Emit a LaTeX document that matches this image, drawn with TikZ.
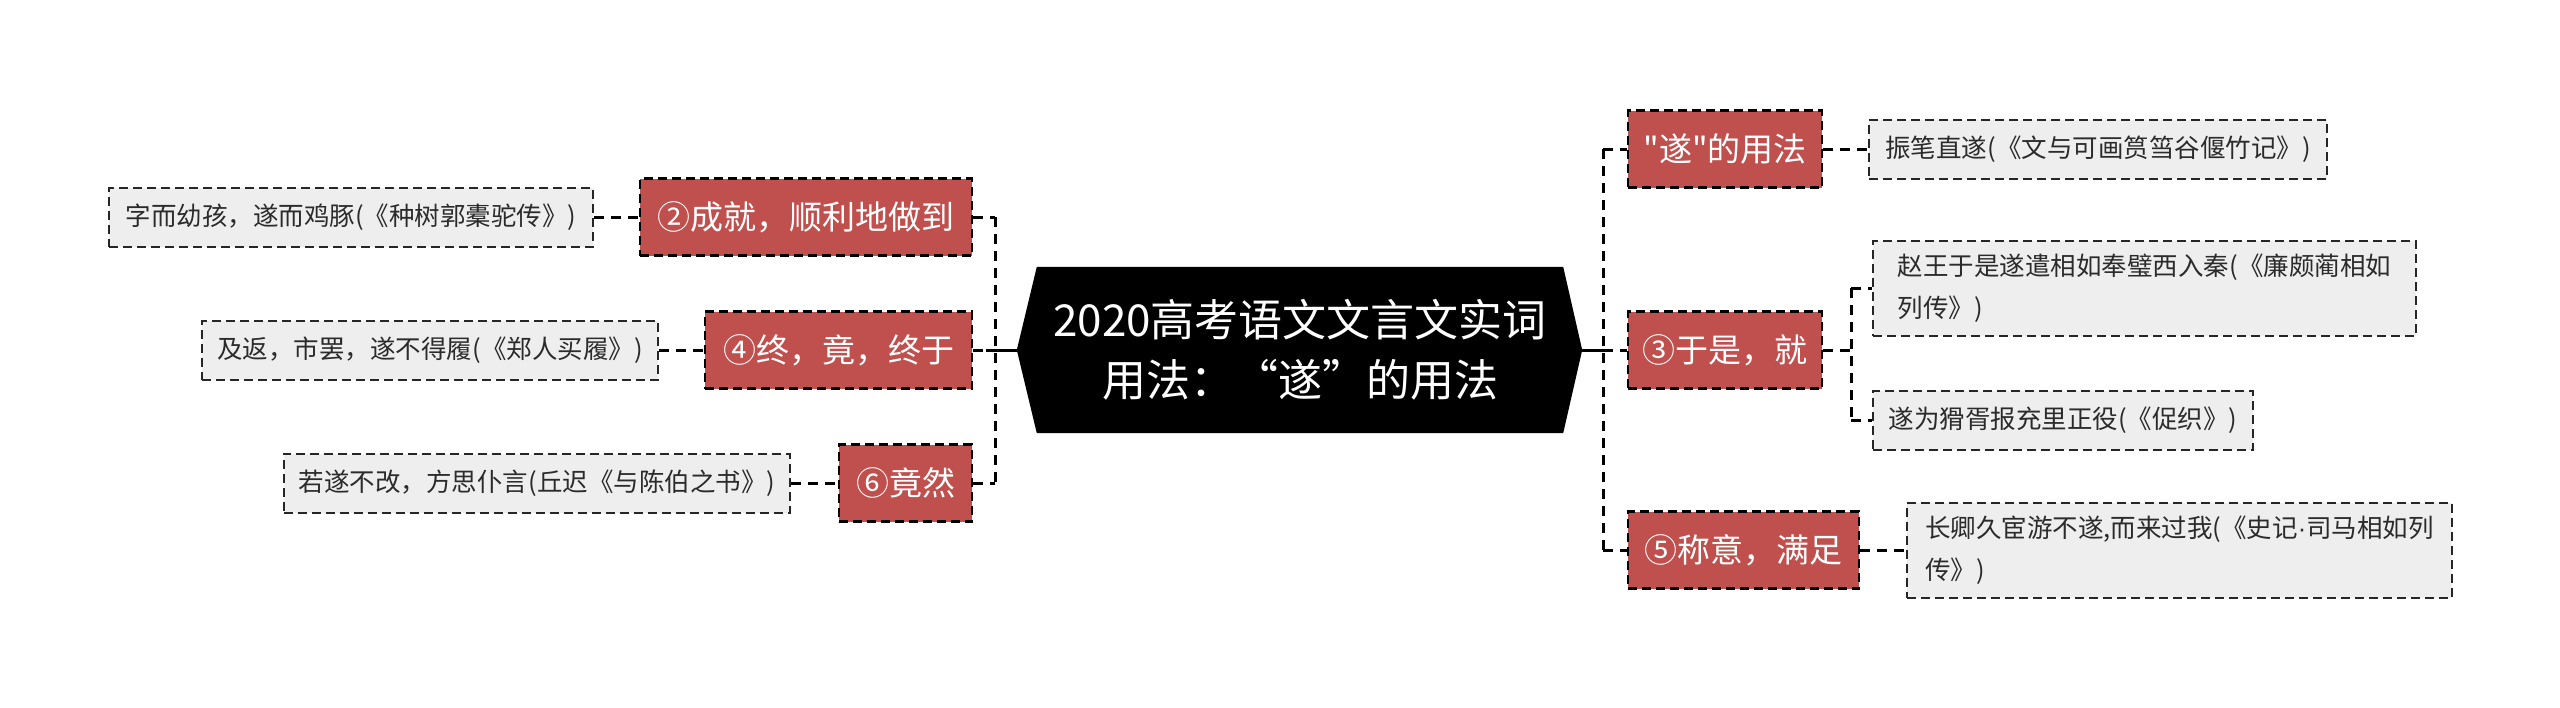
\documentclass[tikz,border=0pt]{standalone}
\usepackage{fontspec}
\newfontfamily\cjk{Noto Sans CJK SC}
\newfontfamily\latin{Liberation Sans}
\setmainfont{Noto Sans CJK SC}
\usetikzlibrary{backgrounds}
\definecolor{redfill}{HTML}{C0504D}
\definecolor{greyfill}{HTML}{EEEEEE}
\definecolor{greytext}{HTML}{2B2B2B}
\begin{document}
\begin{tikzpicture}[x=1pt,y=-1pt,
  centerbox/.style={minimum width=526pt, minimum height=166pt, inner sep=0pt, text=white, align=center, font=\cjk\fontsize{44}{60}\selectfont},
  redbox/.style={draw=black, line width=2.5pt, dash pattern=on 9pt off 5pt, fill=redfill, text=white, minimum height=77pt, inner sep=0pt, font=\cjk\fontsize{33}{40}\selectfont},
  greybox/.style={draw=black!85, line width=2pt, dash pattern=on 9pt off 5pt, fill=greyfill, text=greytext, minimum height=59pt, inner xsep=15pt, inner ysep=0pt, align=left, font=\cjk\fontsize{25.5}{42}\selectfont},
  conn/.style={draw=black, line width=3pt, dash pattern=on 10pt off 7pt},
  solidconn/.style={draw=black, line width=3pt}
]
\useasboundingbox (0,0) rectangle (2560,707);

% central topic
\node[centerbox] (c) at (1300,350) {2020高考语文文言文实词\\用法：“遂”的用法};
\coordinate (cl) at ([xshift=-20pt]c.west);
\coordinate (cr) at ([xshift=19pt]c.east);
\begin{scope}[on background layer]
  \fill[black] (c.north west) -- (c.north east) -- (cr) -- (c.south east) -- (c.south west) -- (cl) -- cycle;
\end{scope}

% left branch nodes
\node[redbox, minimum width=332pt] (n2) at (806,217) {②成就，顺利地做到};
\node[redbox, minimum width=267pt] (n4) at (838.5,350) {④终，竟，终于};
\node[redbox, minimum width=133pt] (n6) at (905.5,483) {⑥竟然};

\node[greybox, minimum width=484pt] (g2) at (351,217) {字而幼孩，遂而鸡豚(《种树郭橐驼传》)};
\node[greybox, minimum width=456pt] (g4) at (430,350) {及返，市罢，遂不得履(《郑人买履》)};
\node[greybox, minimum width=506pt] (g6) at (537,483) {若遂不改，方思仆言(丘迟《与陈伯之书》)};

% right branch nodes
\node[redbox, minimum width=194pt] (n1) at (1725,149) {"遂"的用法};
\node[redbox, minimum width=194pt] (n3) at (1725,350) {③于是，就};
\node[redbox, minimum width=231pt] (n5) at (1743.5,550) {⑤称意，满足};

\node[greybox, minimum width=458pt] (g1) at (2098,149) {振笔直遂(《文与可画筼筜谷偃竹记》)};
\node[greybox, minimum width=543pt, minimum height=95pt] (g3a) at (2144.5,288) {赵王于是遂遣相如奉璧西入秦(《廉颇蔺相如\\列传》)};
\node[greybox, minimum width=380pt] (g3b) at (2063,420) {遂为猾胥报充里正役(《促织》)};
\node[greybox, minimum width=545pt, minimum height=95pt] (g5) at (2179.5,550) {长卿久宦游不遂,而来过我(《史记{\latin ·}司马相如列\\传》)};

% spines
\coordinate (sl) at (995,350);
\coordinate (slend) at (986,350);
\coordinate (sr) at (1603,350);
\coordinate (s3) at (1851,350);

\draw[solidconn] (cl) -- (slend);
\draw[solidconn] (cr) -- (sr);

\draw[conn] (sl |- n2.east) -- (sl |- n6.east);
\draw[conn] (n2.east) -- (sl |- n2.east);
\draw[conn] (n4.east) -- (sl |- n4.east);
\draw[conn] (n6.east) -- (sl |- n6.east);

\draw[conn] (sr |- n1.west) -- (sr |- n5.west);
\draw[conn] (sr |- n1.west) -- (n1.west);
\draw[conn] (sr |- n3.west) -- (n3.west);
\draw[conn] (sr |- n5.west) -- (n5.west);

\draw[conn] (g2.east) -- (n2.west);
\draw[conn] (g4.east) -- (n4.west);
\draw[conn] (g6.east) -- (n6.west);

\draw[conn] (n1.east) -- (g1.west);
\draw[conn] (n5.east) -- (g5.west);

\draw[conn] (n3.east) -- (s3 |- n3.east);
\draw[conn] (s3 |- g3a.west) -- (s3 |- g3b.west);
\draw[conn] (s3 |- g3a.west) -- (g3a.west);
\draw[conn] (s3 |- g3b.west) -- (g3b.west);
\end{tikzpicture}
\end{document}
